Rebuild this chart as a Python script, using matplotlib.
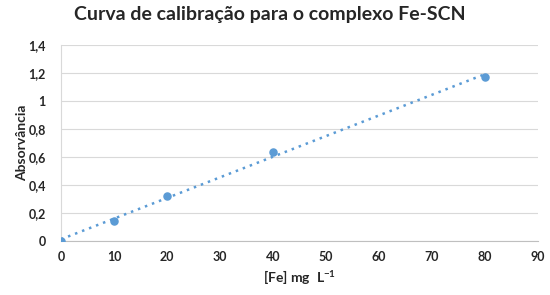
import matplotlib
matplotlib.use("Agg")
import matplotlib.pyplot as plt
import numpy as np

conc = [0, 10, 20, 40, 80]
absorb = [0.0, 0.145, 0.32, 0.635, 1.175]
xticks = [0, 10, 20, 30, 40, 50, 60, 70, 80, 90]
yticks = [0, 0.2, 0.4, 0.6, 0.8, 1.0, 1.2, 1.4]
ytick_labels = ["0", "0,2", "0,4", "0,6", "0,8", "1", "1,2", "1,4"]

plt.rcParams['font.family'] = ['Lato', 'DejaVu Sans']
plt.rcParams['mathtext.default'] = 'regular'

fig = plt.figure(figsize=(5.5, 2.95), dpi=100)
ax = fig.add_axes([0.111, 0.183, 0.867, 0.664])

color = "#5b9bd5"
coef = np.polyfit(conc, absorb, 1)
xs = np.array([min(conc), max(conc)])
ax.plot(xs, np.polyval(coef, xs), linestyle=(0, (1, 2)), color=color, lw=1.8, zorder=2)
ax.scatter(conc, absorb, s=26, color=color, zorder=3)

ax.set_xlim(0, 90)
ax.set_ylim(0, 1.4)
ax.set_xticks(xticks)
ax.set_yticks(yticks)
ax.set_yticklabels(ytick_labels)
ax.grid(axis='y', color="#d9d9d9", lw=0.8)
ax.set_axisbelow(True)
for s in ['top', 'right']:
    ax.spines[s].set_visible(False)
ax.spines['left'].set_color("#d9d9d9")
ax.spines['bottom'].set_color("#bfbfbf")
ax.tick_params(length=0, labelsize=9, labelcolor="#262626")
ax.tick_params(axis='y', pad=11)
ax.tick_params(axis='x', pad=7)
for lab in ax.get_xticklabels() + ax.get_yticklabels():
    lab.set_fontweight('bold')
ax.set_xlabel("[Fe] mg  L$^{-1}$", fontsize=10, fontweight='bold', color="#262626", labelpad=4)
ax.set_ylabel("Absorvância", fontsize=10, fontweight='bold', color="#262626", labelpad=0)
fig.suptitle("Curva de calibração para o complexo Fe-SCN", fontsize=14, fontweight='bold',
             color="#262626", x=0.49, y=0.98)

fig.savefig("out.png", dpi=100)
